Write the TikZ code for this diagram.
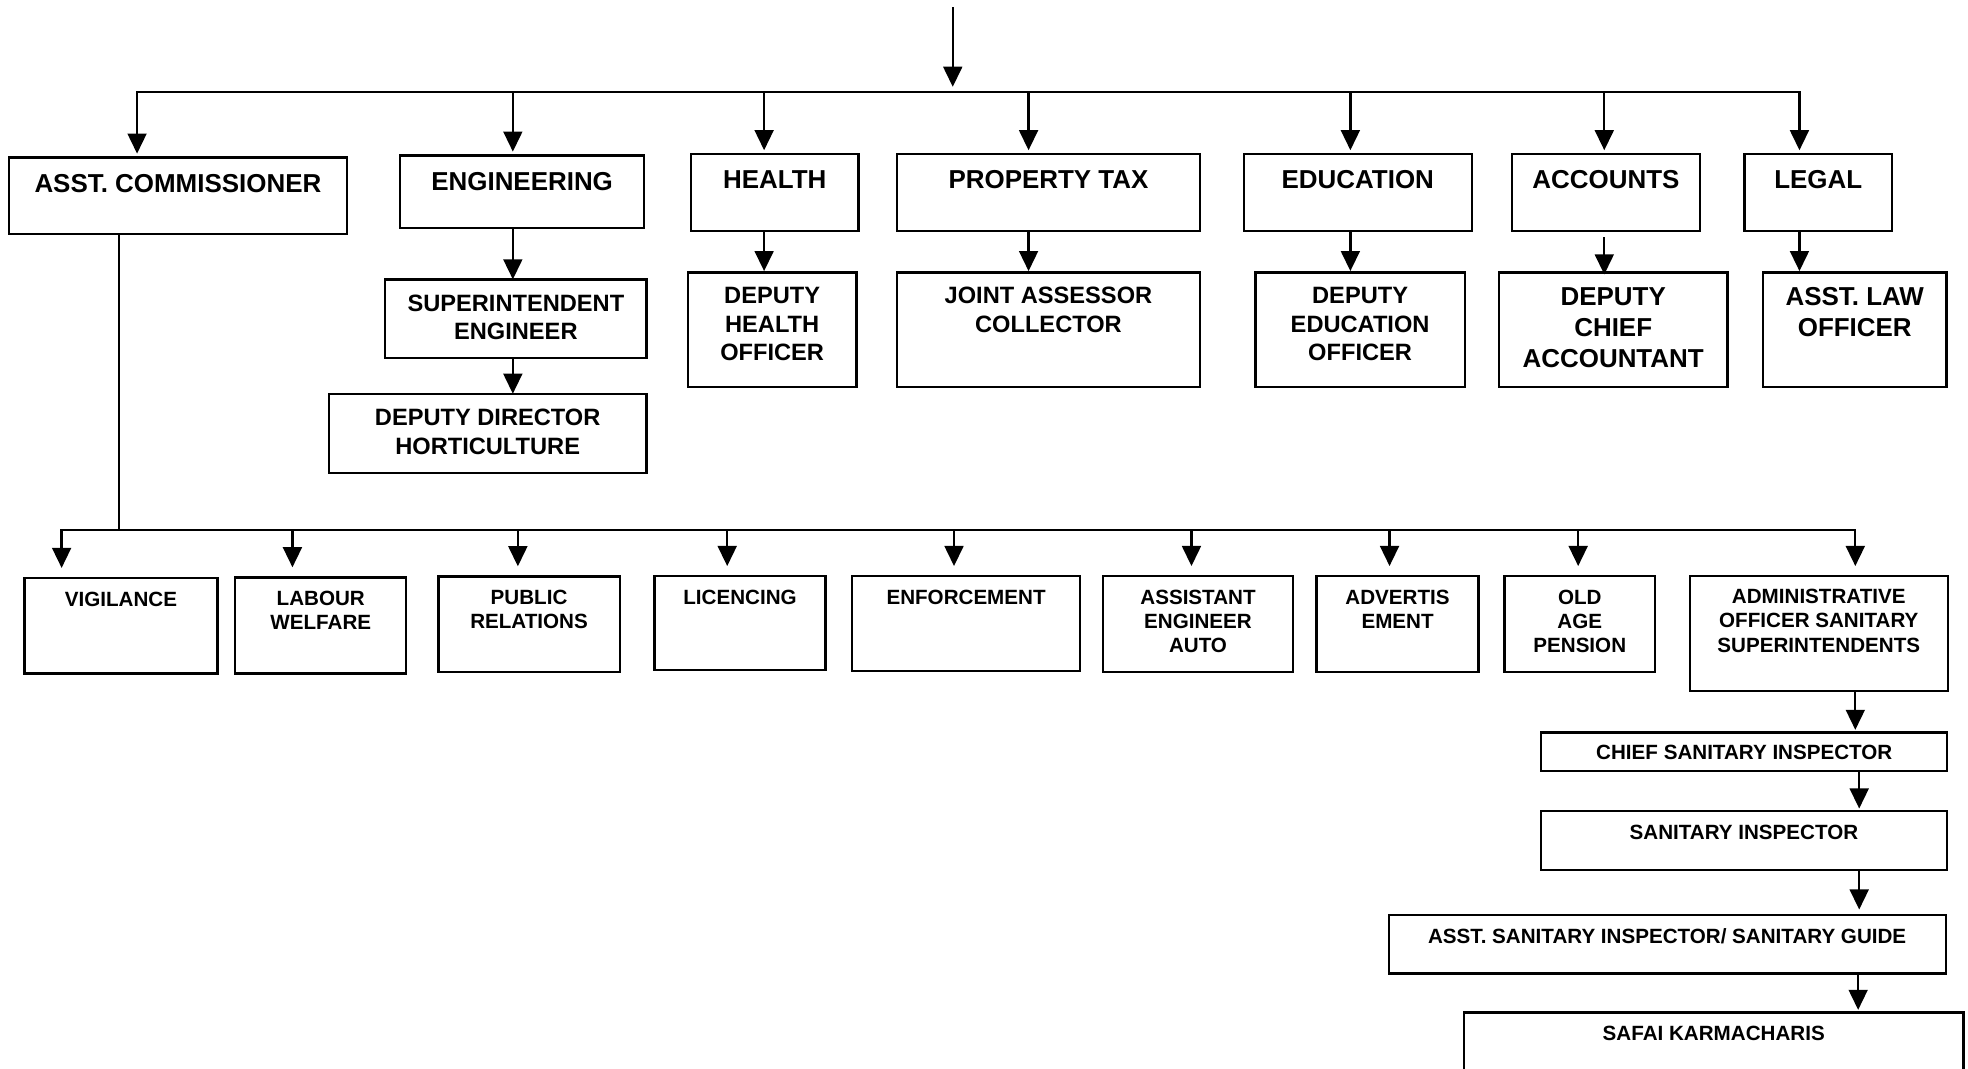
\documentclass[tikz,border=0pt]{standalone}
\usepackage{fontspec}
\setmainfont{Liberation Sans}
\usetikzlibrary{arrows.meta}

\tikzset{
  box/.style={draw, rectangle, line width=1.1pt, inner sep=0pt, outer sep=0pt, anchor=north west},
  lbl/.style={align=center, inner sep=0pt, outer sep=0pt, anchor=north},
  big/.style={lbl, font=\fontsize{12.4}{14.8}\selectfont\bfseries},
  mid/.style={lbl, font=\fontsize{11.3}{13.6}\selectfont\bfseries},
  sml/.style={lbl, font=\fontsize{9.85}{11.6}\selectfont\bfseries},
  wire/.style={line width=1.1pt, line cap=rect},
  arr/.style={wire, -{Triangle[length=9.6pt,width=9pt]}},
}

% box by its corners: name, x1, y1, x2, y2
\newcommand{\bx}[5]{\node[box, minimum width={(#4-#2)*0.6pt}, minimum height={(#5-#3)*0.6pt}] (#1) at (#2,#3) {};}
% label hanging from the top edge of a box: box, style, drop, text
\newcommand{\tx}[4]{\node[#2] (#1-t) at ([yshift={-(#3)*0.6pt}]#1.north) {#4};}

\begin{document}
\begin{tikzpicture}[x=0.6pt, y=-0.6pt]
\fill[white] (0,0) rectangle (1568,851);
\useasboundingbox (0,0) rectangle (1568,851);
\clip (0,0) rectangle (1568,851);

% ---------- departments ----------
\bx{asst}{7.1}{125.4}{276.4}{186.7}
\bx{eng}{318.7}{123.8}{513.3}{181.4}
\bx{health}{550.6}{122.7}{684}{183.8}
\bx{prop}{714.6}{122.7}{956.1}{183.8}
\bx{edu}{991}{122.7}{1172.6}{183.8}
\bx{acc}{1204.8}{122.7}{1354.2}{183.8}
\bx{legal}{1389.8}{122.7}{1507.6}{183.8}

\tx{asst}{big}{13.3}{ASST. COMMISSIONER}
\tx{eng}{big}{13.3}{ENGINEERING}
\tx{health}{big}{13.3}{HEALTH}
\tx{prop}{big}{13.3}{PROPERTY TAX}
\tx{edu}{big}{13.3}{EDUCATION}
\tx{acc}{big}{13.3}{ACCOUNTS}
\tx{legal}{big}{13.3}{LEGAL}

% ---------- officers under departments ----------
\bx{sup}{307}{222.6}{515}{285}
\bx{ddh}{262.1}{313.7}{515}{376.6}
\bx{dho}{548.1}{217}{682.3}{308.6}
\bx{jac}{714.6}{217}{956.1}{308.6}
\bx{deo}{1000.2}{217}{1167.1}{308.6}
\bx{dca}{1194.3}{217}{1376.3}{308.6}
\bx{alo}{1404.7}{217}{1550.8}{308.6}

\tx{sup}{mid}{12.3}{SUPERINTENDENT\\ENGINEER}
\tx{ddh}{mid}{12.3}{DEPUTY DIRECTOR\\HORTICULTURE}
\tx{dho}{mid}{12}{DEPUTY\\HEALTH\\OFFICER}
\tx{jac}{mid}{12}{JOINT ASSESSOR\\COLLECTOR}
\tx{deo}{mid}{12}{DEPUTY\\EDUCATION\\OFFICER}
\tx{dca}{big}{12}{DEPUTY\\CHIEF\\ACCOUNTANT}
\tx{alo}{big}{12}{ASST. LAW\\OFFICER}

% ---------- sections under the assistant commissioner ----------
\bx{vig}{19.6}{460.5}{173.2}{536.5}
\bx{lab}{187.5}{460}{323.7}{536.5}
\bx{pub}{349.3}{459.2}{493.7}{535.2}
\bx{lic}{521.5}{459}{657.7}{533.8}
\bx{enf}{679}{459}{860.4}{534.6}
\bx{aea}{878.9}{459}{1030.1}{535.2}
\bx{adv}{1049}{459}{1178}{535.2}
\bx{old}{1198.7}{459}{1318.6}{535.2}
\bx{admin}{1346.4}{459}{1551.8}{550.3}

\tx{vig}{sml}{11}{VIGILANCE}
\tx{lab}{sml}{11}{LABOUR\\WELFARE}
\tx{pub}{sml}{11}{PUBLIC\\RELATIONS}
\tx{lic}{sml}{11}{LICENCING}
\tx{enf}{sml}{11}{ENFORCEMENT}
\tx{aea}{sml}{11}{ASSISTANT\\ENGINEER\\AUTO}
\tx{adv}{sml}{11}{ADVERTIS\\EMENT}
\tx{old}{sml}{11}{OLD\\AGE\\PENSION}
\tx{admin}{sml}{10.5}{ADMINISTRATIVE\\OFFICER SANITARY\\SUPERINTENDENTS}

% ---------- sanitary chain ----------
\bx{csi}{1228}{583.5}{1551.5}{614.2}
\bx{si}{1227.8}{646.2}{1551.1}{693.2}
\bx{asi}{1106.4}{729}{1550.2}{775.5}
\bx{safai}{1166.4}{806.6}{1564.4}{880}

\tx{csi}{sml}{10.5}{CHIEF SANITARY INSPECTOR}
\tx{si}{sml}{11.2}{SANITARY INSPECTOR}
\tx{asi}{sml}{11.2}{ASST. SANITARY INSPECTOR/ SANITARY GUIDE}
\tx{safai}{sml}{11.2}{SAFAI KARMACHARIS}

% ---------- upper distribution bus ----------
\coordinate (top) at (759.1,6.6);
\coordinate (d-asst) at (109.2,73.5);
\coordinate (d-eng) at (408.6,73.5);
\coordinate (d-health) at (608.8,73.5);
\coordinate (d-prop) at (819.5,73.5);
\coordinate (d-edu) at (1075.9,73.5);
\coordinate (d-acc) at (1278.2,73.5);
\coordinate (d-legal) at (1433.7,73.5);

\draw[arr, shorten >=2.6pt] (top) -- (top |- d-asst);
\draw[wire] (d-asst) -- (d-legal);
\foreach \d/\b in {asst/asst, eng/eng, health/health, prop/prop, edu/edu, acc/acc, legal/legal}
  \draw[arr, shorten >=1.8pt] (d-\d) -- (d-\d |- \b.north);

% department to officer
\draw[arr] (d-eng |- eng.south) -- (d-eng |- sup.north);
\draw[arr] (d-eng |- sup.south) -- (d-eng |- ddh.north);
\draw[arr, shorten >=0.6pt] (d-health |- health.south) -- (d-health |- dho.north);
\draw[arr, shorten >=0.6pt] (d-prop |- prop.south) -- (d-prop |- jac.north);
\draw[arr, shorten >=0.6pt] (d-edu |- edu.south) -- (d-edu |- deo.north);
\draw[arr] ([yshift=-3.6pt]d-acc |- acc.south) -- ([yshift=-1pt]d-acc |- dca.north);
\draw[arr, shorten >=0.6pt] (d-legal |- legal.south) -- (d-legal |- alo.north);

% ---------- lower distribution bus ----------
\coordinate (j-low) at (94.6,422);
\coordinate (l-vig) at (49.1,422);
\coordinate (l-lab) at (233,422);
\coordinate (l-pub) at (412.6,422);
\coordinate (l-lic) at (579.4,422);
\coordinate (l-enf) at (760.1,422);
\coordinate (l-aea) at (949.3,422);
\coordinate (l-adv) at (1107.1,422);
\coordinate (l-old) at (1257.4,422);
\coordinate (l-admin) at (1478.2,422);

\draw[wire] (asst.south -| j-low) -- (j-low);
\draw[wire] (l-vig) -- (l-admin);
\foreach \d in {vig, lab, pub, lic, enf, aea, adv, old, admin}
  \draw[arr, shorten >=4.8pt] (l-\d) -- (l-\d |- \d.north);

% sanitary chain connectors
\coordinate (spine) at (1481.3,614.2);
\draw[arr, shorten >=1.2pt] (l-admin |- admin.south) -- (l-admin |- csi.north);
\draw[arr, shorten >=1.2pt] (spine |- csi.south) -- (spine |- si.north);
\draw[arr, shorten >=2.6pt] (spine |- si.south) -- (spine |- asi.north);
\draw[arr, shorten >=1.2pt] ([xshift=-0.5pt]spine |- asi.south) -- ([xshift=-0.5pt]spine |- safai.north);
\end{tikzpicture}
\end{document}
